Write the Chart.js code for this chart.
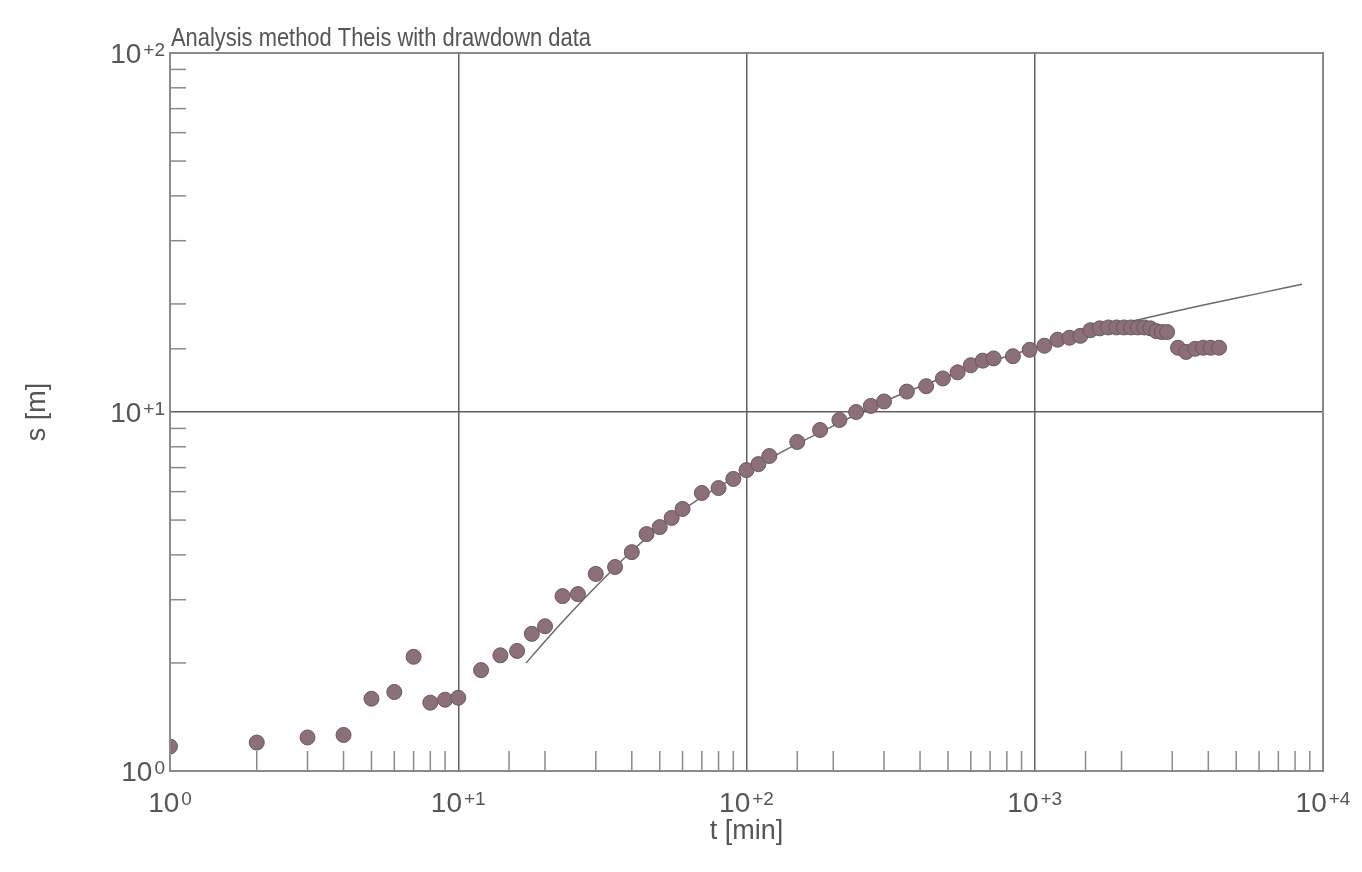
<!DOCTYPE html>
<html>
<head>
<meta charset="utf-8">
<title>Analysis method Theis with drawdown data</title>
<script src="https://cdn.jsdelivr.net/npm/chart.js@4.4.1/dist/chart.umd.min.js"></script>
<style>
    html, body { margin: 0; padding: 0; background: #fff; }
    #wrap { width: 1362px; height: 872px; }
</style>
</head>
<body>
<div id="wrap"><canvas id="theisChart"></canvas></div>
<script>
// ── Data ──
const timeMin = [1, 2, 3, 4, 5, 6, 7, 8, 9, 10, 12, 14, 16, 18, 20, 23, 26, 30, 35, 40,
    45, 50, 55, 60, 70, 80, 90, 100, 110, 120, 150, 180, 210, 240, 270, 300, 360, 420, 480, 540,
    600, 660, 720, 840, 960, 1080, 1200, 1320, 1440, 1560, 1680, 1800, 1920, 2040, 2160, 2280,
    2400, 2520, 2640, 2760, 2880, 3140, 3350, 3600, 3840, 4080, 4360];
const drawdown = [1.17, 1.20, 1.24, 1.26, 1.59, 1.66, 2.08, 1.55, 1.58, 1.60, 1.91, 2.10, 2.16, 2.41, 2.53, 3.07, 3.11, 3.54, 3.70, 4.07,
    4.57, 4.78, 5.07, 5.37, 5.95, 6.14, 6.51, 6.89, 7.16, 7.54, 8.25, 8.91, 9.5, 10.0, 10.4, 10.7, 11.4, 11.8, 12.4, 12.9,
    13.5, 13.9, 14.1, 14.3, 14.9, 15.3, 15.9, 16.1, 16.3, 16.9, 17.1, 17.2, 17.2, 17.2, 17.2, 17.2,
    17.2, 17.1, 16.8, 16.7, 16.7, 15.1, 14.7, 15.0, 15.1, 15.1, 15.1];

// Theis type curve as drawn
const fitTime = [17.2, 20, 25, 31, 40, 50, 70, 100, 150, 200, 300, 500, 700, 1000, 1500, 2450, 4000, 6000, 8460];
const fitDrawdown = [2.0, 2.30, 2.80, 3.35, 4.10, 4.78, 5.80, 6.85, 8.15, 9.15, 10.7, 12.6, 13.8, 15.1, 16.6, 18.3, 20.0, 21.4, 22.7];

const xDecades = [1, 10, 100, 1000, 10000];
const xExponents = ['0', '+1', '+2', '+3', '+4'];
const yDecades = [1, 10, 100];
const yExponents = ['0', '+1', '+2'];

const textColor = '#555555';
const gridColor = '#5e5e5e';
const frameColor = '#8a8a8a';
const fontFamily = "'Liberation Sans', Arial, sans-serif";

// ── Custom drawing: inner minor ticks, power labels, titles ──
function drawPower(ctx, x, y, exp, align) {
    ctx.font = '28px ' + fontFamily;
    const baseW = ctx.measureText('10').width;
    ctx.font = '19px ' + fontFamily;
    const expW = ctx.measureText(exp).width + 2;
    let left = x;
    if (align === 'center') left = x - (baseW + expW) / 2;
    if (align === 'right') left = x - (baseW + expW);
    ctx.textAlign = 'left';
    ctx.textBaseline = 'alphabetic';
    ctx.font = '28px ' + fontFamily;
    ctx.fillText('10', left, y);
    ctx.font = '19px ' + fontFamily;
    ctx.fillText(exp, left + baseW + 2, y - 7);
}

const decorPlugin = {
    id: 'decor',
    afterDatasetsDraw(chart) {
        const { ctx, chartArea, scales } = chart;
        const xs = scales.x, ys = scales.y;
        ctx.save();
        ctx.strokeStyle = frameColor;
        ctx.lineWidth = 1.5;

        // minor ticks, pointing into the plot
        xs.ticks.forEach(t => {
            const m = t.value / Math.pow(10, Math.floor(Math.log10(t.value) + 1e-9));
            if (Math.abs(m - 1) < 1e-6) return;
            const px = xs.getPixelForValue(t.value);
            ctx.beginPath();
            ctx.moveTo(px, chartArea.bottom);
            ctx.lineTo(px, chartArea.bottom - 20);
            ctx.stroke();
        });
        ys.ticks.forEach(t => {
            const m = t.value / Math.pow(10, Math.floor(Math.log10(t.value) + 1e-9));
            if (Math.abs(m - 1) < 1e-6) return;
            const py = ys.getPixelForValue(t.value);
            ctx.beginPath();
            ctx.moveTo(chartArea.left, py);
            ctx.lineTo(chartArea.left + 16, py);
            ctx.stroke();
        });

        // decade labels
        ctx.fillStyle = textColor;
        xDecades.forEach((v, i) => {
            drawPower(ctx, xs.getPixelForValue(v), chartArea.bottom + 41, xExponents[i], 'center');
        });
        yDecades.forEach((v, i) => {
            drawPower(ctx, chartArea.left - 5, ys.getPixelForValue(v) + 10, yExponents[i], 'right');
        });

        // chart title, slightly condensed like the original
        ctx.save();
        ctx.font = '25px ' + fontFamily;
        ctx.textAlign = 'left';
        const titleText = 'Analysis method Theis with drawdown data';
        const squeeze = 420 / ctx.measureText(titleText).width;
        ctx.translate(chartArea.left + 1, chartArea.top - 7);
        ctx.scale(squeeze, 1);
        ctx.fillText(titleText, 0, 0);
        ctx.restore();

        // axis titles
        ctx.font = '27px ' + fontFamily;
        ctx.textAlign = 'center';
        ctx.fillText('t [min]', xs.getPixelForValue(100), chartArea.bottom + 68);
        ctx.translate(38, ys.getPixelForValue(10));
        ctx.rotate(-Math.PI / 2);
        ctx.textBaseline = 'middle';
        ctx.fillText('s [m]', 0, 0);
        ctx.restore();
    }
};

// ── Chart ──
const measured = timeMin.map((t, i) => ({ x: t, y: drawdown[i] }));
const typeCurve = fitTime.map((t, i) => ({ x: t, y: fitDrawdown[i] }));

const majorOnly = (ctx) => (ctx.tick && ctx.tick.major ? gridColor : 'rgba(0,0,0,0)');

new Chart(document.getElementById('theisChart'), {
    type: 'scatter',
    data: {
        datasets: [{
            label: 'Theis',
            data: typeCurve,
            showLine: true,
            cubicInterpolationMode: 'monotone',
            borderColor: '#6a6a6a',
            borderWidth: 1.5,
            pointRadius: 0,
            fill: false,
            order: 2
        }, {
            label: 'Drawdown',
            data: measured,
            backgroundColor: '#8c7079',
            borderColor: '#6d5560',
            borderWidth: 1,
            pointRadius: 7.5,
            order: 1
        }]
    },
    options: {
        responsive: true,
        maintainAspectRatio: false,
        animation: false,
        layout: { padding: { left: 170, right: 39, top: 53, bottom: 101 } },
        plugins: {
            legend: { display: false },
            tooltip: { enabled: false }
        },
        scales: {
            x: {
                type: 'logarithmic',
                min: 1,
                max: 10000,
                ticks: { display: false, autoSkip: false },
                grid: { color: majorOnly, lineWidth: 1.5, drawTicks: false },
                border: { color: frameColor, width: 2 }
            },
            y: {
                type: 'logarithmic',
                min: 1,
                max: 100,
                ticks: { display: false, autoSkip: false },
                grid: { color: majorOnly, lineWidth: 1.5, drawTicks: false },
                border: { color: frameColor, width: 2 }
            }
        }
    },
    plugins: [decorPlugin, {
        id: 'frame',
        afterDraw(chart) {
            const { ctx, chartArea } = chart;
            ctx.save();
            ctx.strokeStyle = frameColor;
            ctx.lineWidth = 2;
            ctx.strokeRect(chartArea.left, chartArea.top, chartArea.right - chartArea.left, chartArea.bottom - chartArea.top);
            ctx.restore();
        }
    }]
});
</script>
</body>
</html>
